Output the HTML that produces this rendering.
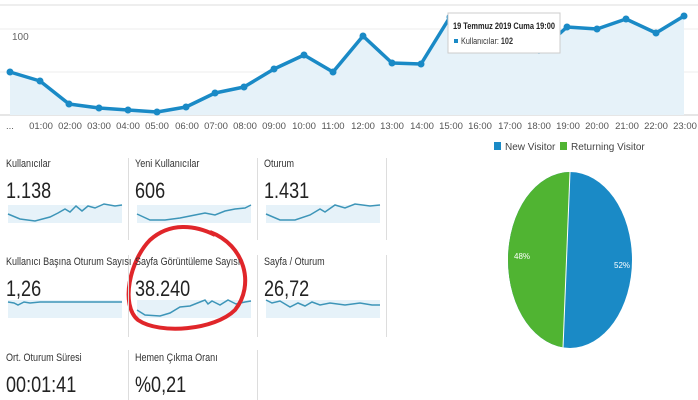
<!DOCTYPE html>
<html><head><meta charset="utf-8"><style>
body{margin:0;width:698px;height:400px;background:#fff;overflow:hidden;font-family:"Liberation Sans",sans-serif;position:relative}
.t{position:absolute;font-size:11px;color:#333;transform:scaleX(0.82);transform-origin:0 0;white-space:nowrap}
.v{position:absolute;font-size:22px;color:#222;transform:scaleX(0.82);transform-origin:0 0;white-space:nowrap}
.vl{position:absolute;width:1px;background:#ddd}
</style></head><body>
<svg width="698" height="400" style="position:absolute;left:0;top:0" font-family="Liberation Sans, sans-serif">
<defs><clipPath id="pc"><ellipse cx="570" cy="260" rx="62" ry="88"/></clipPath></defs>
<line x1="0" y1="5" x2="698" y2="5" stroke="#ddd"/>
<line x1="0" y1="29" x2="698" y2="29" stroke="#eee"/>
<line x1="0" y1="72" x2="698" y2="72" stroke="#eee"/>
<line x1="0" y1="115" x2="698" y2="115" stroke="#ccc"/>
<text x="12" y="40" font-size="10" fill="#666">100</text>
<text x="12" y="84" font-size="10" fill="#666">50</text>
<polygon fill="#e6f2f9" points="10,115 10,72 40,81 69,104 99,108 128,110 157,112 186,107 215,93 244,87 274,69 304,55 333,72 363,36 392,63 421,64 450,17 480,30 510,40 539,52 567,27 597,29 626,19 656,33 684,16 684,115"/>
<polyline fill="none" stroke="#1a8ac6" stroke-width="3.5" stroke-linejoin="round" points="10,72 40,81 69,104 99,108 128,110 157,112 186,107 215,93 244,87 274,69 304,55 333,72 363,36 392,63 421,64 450,17 480,30 510,40 539,52 567,27 597,29 626,19 656,33 684,16"/>
<g fill="#1a8ac6">
<circle cx="10" cy="72" r="3.5"/><circle cx="40" cy="81" r="3.5"/><circle cx="69" cy="104" r="3.5"/><circle cx="99" cy="108" r="3.5"/><circle cx="128" cy="110" r="3.5"/><circle cx="157" cy="112" r="3.5"/><circle cx="186" cy="107" r="3.5"/><circle cx="215" cy="93" r="3.5"/><circle cx="244" cy="87" r="3.5"/><circle cx="274" cy="69" r="3.5"/><circle cx="304" cy="55" r="3.5"/><circle cx="333" cy="72" r="3.5"/><circle cx="363" cy="36" r="3.5"/><circle cx="392" cy="63" r="3.5"/><circle cx="421" cy="64" r="3.5"/><circle cx="450" cy="17" r="3.5"/><circle cx="567" cy="27" r="3.5"/><circle cx="597" cy="29" r="3.5"/><circle cx="626" cy="19" r="3.5"/><circle cx="656" cy="33" r="3.5"/><circle cx="684" cy="16" r="3.5"/>
</g>
<rect x="448" y="13" width="112" height="40" fill="#fff" stroke="#ccc"/>
<text x="453" y="29" font-size="9.5" font-weight="bold" fill="#222" textLength="102" lengthAdjust="spacingAndGlyphs">19 Temmuz 2019 Cuma 19:00</text>
<rect x="454" y="39" width="4" height="4" fill="#1a8ac6"/>
<text x="461" y="44" font-size="9" fill="#333" textLength="52" lengthAdjust="spacingAndGlyphs">Kullanıcılar: <tspan font-weight="bold">102</tspan></text>
<g font-size="9.5" fill="#555" text-anchor="middle">
<text x="10" y="129">...</text><text x="41" y="129">01:00</text><text x="70" y="129">02:00</text><text x="99" y="129">03:00</text><text x="128" y="129">04:00</text><text x="157" y="129">05:00</text><text x="187" y="129">06:00</text><text x="216" y="129">07:00</text><text x="245" y="129">08:00</text><text x="274" y="129">09:00</text><text x="304" y="129">10:00</text><text x="333" y="129">11:00</text><text x="363" y="129">12:00</text><text x="392" y="129">13:00</text><text x="422" y="129">14:00</text><text x="451" y="129">15:00</text><text x="480" y="129">16:00</text><text x="510" y="129">17:00</text><text x="539" y="129">18:00</text><text x="568" y="129">19:00</text><text x="597" y="129">20:00</text><text x="627" y="129">21:00</text><text x="656" y="129">22:00</text><text x="685" y="129">23:00</text>
</g>
<g fill="#e6f2f9">
<rect x="8" y="205" width="114" height="18"/><rect x="137" y="205" width="114" height="18"/><rect x="266" y="205" width="114" height="18"/>
<rect x="8" y="300" width="114" height="18"/><rect x="137" y="300" width="114" height="18"/><rect x="266" y="300" width="114" height="18"/>
</g>
<g fill="none" stroke="#3d95b8" stroke-width="1.5">
<polyline points="8,214 20,219 35,221 50,217 58,213 65,209 70,212 76,206 82,211 88,206 95,208 104,204 115,206 122,205"/>
<polyline points="137,214 150,220 165,220 180,218 195,215 205,213 215,215 225,211 235,209 245,208 251,205"/>
<polyline points="266,214 280,220 295,220 310,215 320,209 325,212 335,205 345,208 355,204 370,206 380,205"/>
<polyline points="8,302 14,303 18,305 24,302 30,303 40,302 60,302 80,302 100,302 122,302"/>
<polyline points="137,310 145,315 160,316 170,313 180,307 190,306 200,302 205,300 208,304 212,301 220,305 228,300 236,304 245,302 251,301"/>
<polyline points="266,300 272,303 280,301 290,307 298,303 305,306 312,302 320,305 330,303 345,305 360,303 372,305 380,305"/>
</g>
<path d="M210,232 C245,245 255,285 235,310 C215,330 160,335 138,320 C120,305 130,260 150,240 C170,222 195,225 215,235" fill="none" stroke="#e0262a" stroke-width="4"/>
<rect x="494" y="142" width="7" height="8" fill="#1a8ac6"/><text x="505" y="150" font-size="10" fill="#444">New Visitor</text>
<rect x="560" y="142" width="7" height="8" fill="#50b432"/><text x="571" y="150" font-size="10" fill="#444">Returning Visitor</text>
<ellipse cx="570" cy="260" rx="62" ry="88" fill="#1a8ac6"/>
<polygon clip-path="url(#pc)" points="570,172 563,348 500,348 500,172" fill="#50b432"/>
<line x1="570" y1="172" x2="563" y2="348" stroke="#fff" stroke-width="1"/>
<text x="514" y="259" font-size="8" fill="#fff">48%</text>
<text x="614" y="268" font-size="8" fill="#fff">52%</text>
</svg>
<div class="vl" style="left:128px;top:158px;height:82px"></div>
<div class="vl" style="left:257px;top:158px;height:82px"></div>
<div class="vl" style="left:386px;top:158px;height:82px"></div>
<div class="vl" style="left:128px;top:255px;height:82px"></div>
<div class="vl" style="left:257px;top:255px;height:82px"></div>
<div class="vl" style="left:386px;top:255px;height:82px"></div>
<div class="vl" style="left:128px;top:350px;height:50px"></div>
<div class="vl" style="left:257px;top:350px;height:50px"></div>
<div class="t" style="left:6px;top:158px">Kullanıcılar</div>
<div class="t" style="left:135px;top:158px">Yeni Kullanıcılar</div>
<div class="t" style="left:264px;top:158px">Oturum</div>
<div class="v" style="left:6px;top:178px">1.138</div>
<div class="v" style="left:135px;top:178px">606</div>
<div class="v" style="left:264px;top:178px">1.431</div>
<div class="t" style="left:6px;top:256px">Kullanıcı Başına Oturum Sayısı</div>
<div class="t" style="left:135px;top:256px">Sayfa Görüntüleme Sayısı</div>
<div class="t" style="left:264px;top:256px">Sayfa / Oturum</div>
<div class="v" style="left:6px;top:276px">1,26</div>
<div class="v" style="left:135px;top:276px">38.240</div>
<div class="v" style="left:264px;top:276px">26,72</div>
<div class="t" style="left:6px;top:352px">Ort. Oturum Süresi</div>
<div class="t" style="left:135px;top:352px">Hemen Çıkma Oranı</div>
<div class="v" style="left:6px;top:372px">00:01:41</div>
<div class="v" style="left:135px;top:372px">%0,21</div>
</body></html>
